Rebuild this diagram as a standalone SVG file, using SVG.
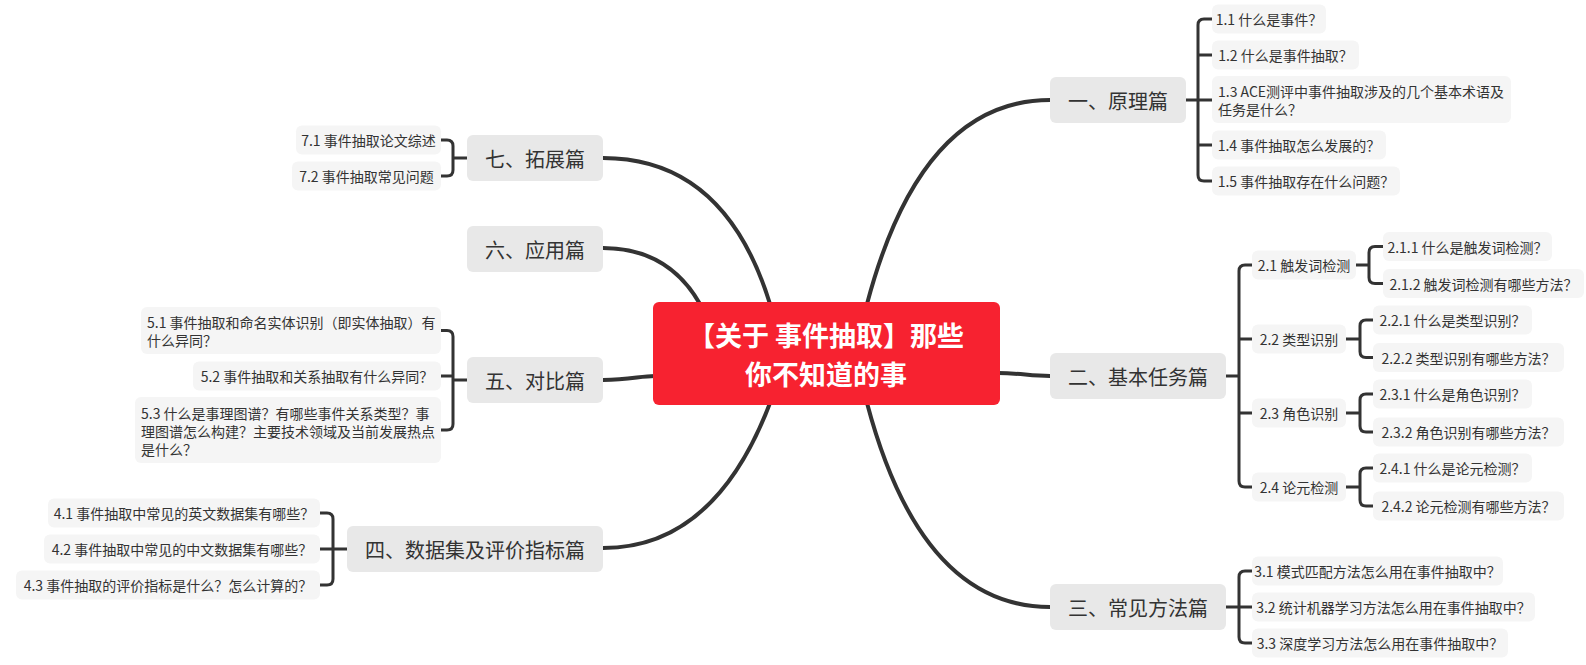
<svg xmlns="http://www.w3.org/2000/svg" width="1586" height="665" viewBox="0 0 1586 665">
<style>
text{font-family:"Noto Sans CJK SC","Noto Sans",sans-serif;dominant-baseline:central;}
.main rect{fill:#E8E8E8;}
.main text{font-size:20px;fill:#333;text-anchor:middle;}
.sub rect{fill:#F5F5F5;}
.sub text{font-size:14px;fill:#333;text-anchor:middle;}
.sub text.ml{text-anchor:start;}
.branch{fill:none;stroke:#333;stroke-width:4;stroke-linecap:round;}
.brk{fill:none;stroke:#333;stroke-width:3;}
.root rect{fill:#F72230;}
.root text{font-size:27px;font-weight:bold;fill:#fff;text-anchor:middle;}
</style>
<rect width="1586" height="665" fill="#fff"/>
<g id="connectors">
<path class="branch" d="M603,158 Q725,158 770,304"/>
<path class="branch" d="M603,248 Q668,248 700,304"/>
<path class="branch" d="M603,380 C630,380 640,376 655,376"/>
<path class="branch" d="M603,548 Q715,548 770,403"/>
<path class="branch" d="M998,373 C1020,373 1030,376 1050,376"/>
<path class="branch" d="M1050,100 Q921,100 867,304"/>
<path class="branch" d="M1050,607 Q921,607 867,403"/>
<path class="brk" d="M1186,100 H1212 M1212,19 H1204 Q1198,19 1198,25 V175 Q1198,181 1204,181 H1212 M1198,55 H1212 M1198,145 H1212"/>
<path class="brk" d="M1226,376 H1239 M1252,265 H1245 Q1239,265 1239,271 V481 Q1239,487 1245,487 H1252 M1239,339 H1252 M1239,413 H1252"/>
<path class="brk" d="M1356,265 H1369 M1383,246.5 H1375 Q1369,246.5 1369,252.5 V277.5 Q1369,283.5 1375,283.5 H1383"/>
<path class="brk" d="M1346,339 H1360 M1373,320 H1366 Q1360,320 1360,326 V351.5 Q1360,357.5 1366,357.5 H1373"/>
<path class="brk" d="M1346,413 H1360 M1373,394 H1366 Q1360,394 1360,400 V426 Q1360,432 1366,432 H1373"/>
<path class="brk" d="M1346,487 H1360 M1373,468 H1366 Q1360,468 1360,474 V500 Q1360,506 1366,506 H1373"/>
<path class="brk" d="M1226,607 H1252 M1252,571 H1245 Q1239,571 1239,577 V637 Q1239,643 1245,643 H1252"/>
<path class="brk" d="M467,158 H453 M441,140 H447 Q453,140 453,146 V170 Q453,176 447,176 H441"/>
<path class="brk" d="M467,380 H453 M441,330.5 H447 Q453,330.5 453,336.5 V424 Q453,430 447,430 H441 M453,376 H441"/>
<path class="brk" d="M347,549 H320 M320,513 H327 Q333,513 333,519 V579 Q333,585 327,585 H320"/>
</g>
<g id="root" class="root">
<rect x="653" y="302" width="347" height="103" rx="6"/>
<text x="826" y="334">【关于 事件抽取】那些</text>
<text x="826" y="373.5">你不知道的事</text>
</g>
<g id="n1" class="main"><rect x="1050" y="77" width="136" height="46" rx="6"/><text x="1118" y="100">一、原理篇</text></g>
<g id="n11" class="sub"><rect x="1212" y="4.5" width="114" height="29" rx="6"/><text x="1269" y="19">1.1 什么是事件？</text></g>
<g id="n12" class="sub"><rect x="1212" y="40.5" width="147" height="29" rx="6"/><text x="1285.5" y="55">1.2 什么是事件抽取？</text></g>
<g id="n13" class="sub"><rect x="1212" y="76" width="299" height="47" rx="6"/><text class="ml" x="1218" y="91">1.3 ACE测评中事件抽取涉及的几个基本术语及</text><text class="ml" x="1218" y="109">任务是什么？</text></g>
<g id="n14" class="sub"><rect x="1212" y="130.5" width="174" height="29" rx="6"/><text x="1299" y="145">1.4 事件抽取怎么发展的？</text></g>
<g id="n15" class="sub"><rect x="1212" y="166.5" width="188" height="29" rx="6"/><text x="1306" y="181">1.5 事件抽取存在什么问题？</text></g>
<g id="n2" class="main"><rect x="1050" y="353" width="176" height="46" rx="6"/><text x="1138" y="376">二、基本任务篇</text></g>
<g id="n21" class="sub"><rect x="1252" y="250.5" width="104" height="29" rx="6"/><text x="1304" y="265">2.1 触发词检测</text></g>
<g id="n211" class="sub"><rect x="1383" y="232" width="169" height="29" rx="6"/><text x="1467.5" y="246.5">2.1.1 什么是触发词检测？</text></g>
<g id="n212" class="sub"><rect x="1383" y="269" width="201" height="29" rx="6"/><text x="1483.5" y="283.5">2.1.2 触发词检测有哪些方法？</text></g>
<g id="n22" class="sub"><rect x="1252" y="324.5" width="94" height="29" rx="6"/><text x="1299" y="339">2.2 类型识别</text></g>
<g id="n221" class="sub"><rect x="1373" y="305.5" width="159" height="29" rx="6"/><text x="1452.5" y="320">2.2.1 什么是类型识别？</text></g>
<g id="n222" class="sub"><rect x="1373" y="343" width="191" height="29" rx="6"/><text x="1468.5" y="357.5">2.2.2 类型识别有哪些方法？</text></g>
<g id="n23" class="sub"><rect x="1252" y="398.5" width="94" height="29" rx="6"/><text x="1299" y="413">2.3 角色识别</text></g>
<g id="n231" class="sub"><rect x="1373" y="379.5" width="159" height="29" rx="6"/><text x="1452.5" y="394">2.3.1 什么是角色识别？</text></g>
<g id="n232" class="sub"><rect x="1373" y="417.5" width="191" height="29" rx="6"/><text x="1468.5" y="432">2.3.2 角色识别有哪些方法？</text></g>
<g id="n24" class="sub"><rect x="1252" y="472.5" width="94" height="29" rx="6"/><text x="1299" y="487">2.4 论元检测</text></g>
<g id="n241" class="sub"><rect x="1373" y="453.5" width="159" height="29" rx="6"/><text x="1452.5" y="468">2.4.1 什么是论元检测？</text></g>
<g id="n242" class="sub"><rect x="1373" y="491.5" width="191" height="29" rx="6"/><text x="1468.5" y="506">2.4.2 论元检测有哪些方法？</text></g>
<g id="n3" class="main"><rect x="1050" y="584" width="176" height="46" rx="6"/><text x="1138" y="607">三、常见方法篇</text></g>
<g id="n31" class="sub"><rect x="1252" y="556.5" width="251" height="29" rx="6"/><text x="1377.5" y="571">3.1 模式匹配方法怎么用在事件抽取中？</text></g>
<g id="n32" class="sub"><rect x="1252" y="592.5" width="283" height="29" rx="6"/><text x="1393.5" y="607">3.2 统计机器学习方法怎么用在事件抽取中？</text></g>
<g id="n33" class="sub"><rect x="1252" y="628.5" width="256" height="29" rx="6"/><text x="1380" y="643">3.3 深度学习方法怎么用在事件抽取中？</text></g>
<g id="n7" class="main"><rect x="467" y="135" width="136" height="46" rx="6"/><text x="535" y="158">七、拓展篇</text></g>
<g id="n71" class="sub"><rect x="296" y="125.5" width="145" height="29" rx="6"/><text x="368.5" y="140">7.1 事件抽取论文综述</text></g>
<g id="n72" class="sub"><rect x="292" y="161.5" width="149" height="29" rx="6"/><text x="366.5" y="176">7.2 事件抽取常见问题</text></g>
<g id="n6" class="main"><rect x="467" y="226" width="136" height="46" rx="6"/><text x="535" y="249">六、应用篇</text></g>
<g id="n5" class="main"><rect x="467" y="357" width="136" height="46" rx="6"/><text x="535" y="380">五、对比篇</text></g>
<g id="n51" class="sub"><rect x="141" y="307" width="300" height="47" rx="6"/><text class="ml" x="147" y="322">5.1 事件抽取和命名实体识别（即实体抽取）有</text><text class="ml" x="147" y="340">什么异同？</text></g>
<g id="n52" class="sub"><rect x="193" y="361.5" width="248" height="29" rx="6"/><text x="317" y="376">5.2 事件抽取和关系抽取有什么异同？</text></g>
<g id="n53" class="sub"><rect x="135" y="397" width="306" height="66" rx="6"/><text class="ml" x="141" y="413">5.3 什么是事理图谱？有哪些事件关系类型？事</text><text class="ml" x="141" y="431">理图谱怎么构建？主要技术领域及当前发展热点</text><text class="ml" x="141" y="449">是什么？</text></g>
<g id="n4" class="main"><rect x="347" y="526" width="256" height="46" rx="6"/><text x="475" y="549">四、数据集及评价指标篇</text></g>
<g id="n41" class="sub"><rect x="48" y="498.5" width="272" height="29" rx="6"/><text x="184" y="513">4.1 事件抽取中常见的英文数据集有哪些？</text></g>
<g id="n42" class="sub"><rect x="44" y="534.5" width="276" height="29" rx="6"/><text x="182" y="549">4.2 事件抽取中常见的中文数据集有哪些？</text></g>
<g id="n43" class="sub"><rect x="16" y="570.5" width="304" height="29" rx="6"/><text x="168" y="585">4.3 事件抽取的评价指标是什么？怎么计算的？</text></g>
</svg>
